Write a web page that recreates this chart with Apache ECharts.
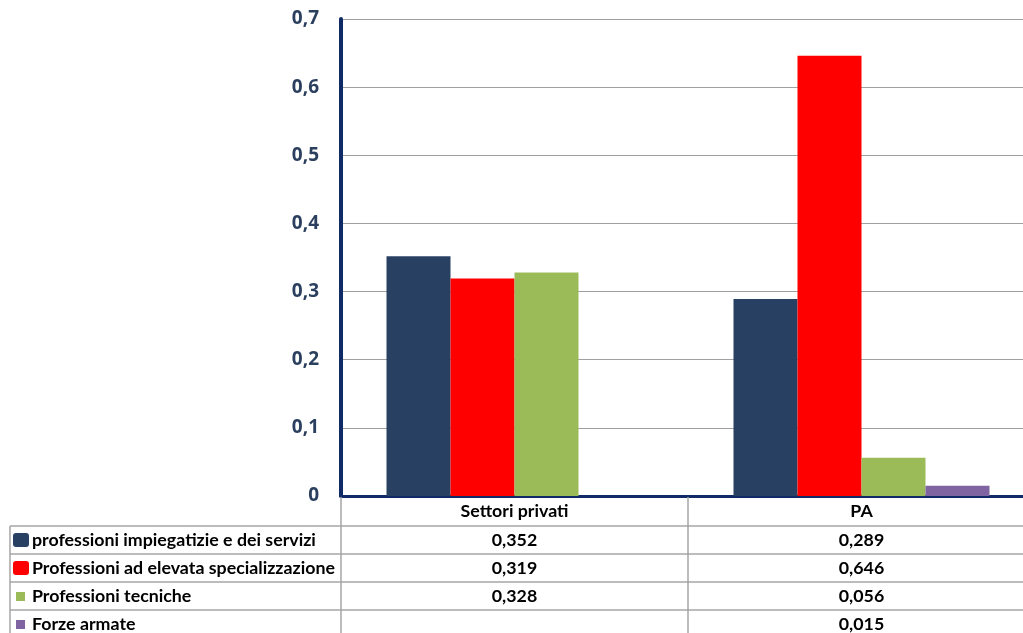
<!DOCTYPE html>
<html><head><meta charset="utf-8">
<script src="https://cdn.jsdelivr.net/npm/echarts@6/dist/echarts.min.js"></script>
<style>html,body{margin:0;padding:0;background:#fff;overflow:hidden;width:1023px;height:633px}#c{width:1035px;height:633px}</style>
</head><body><div id="c"></div>
<script>
const categories = ['Settori privati', 'PA'];
const seriesNames = ['professioni impiegatizie e dei servizi', 'Professioni ad elevata specializzazione', 'Professioni tecniche', 'Forze armate'];
const impiegatizie = [0.352, 0.289];
const elevataSpec = [0.319, 0.646];
const tecniche = [0.328, 0.056];
const forzeArmate = [null, 0.015];
const yTicks = [0, 0.1, 0.2, 0.3, 0.4, 0.5, 0.6, 0.7];

const colors = ['#284163', '#ff0000', '#9bbb59', '#8064a2'];
const seriesData = [impiegatizie, elevataSpec, tecniche, forzeArmate];
const fmt = v => (v == null ? '' : v.toFixed(3).replace('.', ','));

const chart = echarts.init(document.getElementById('c'), null, {renderer: 'canvas'});

const G = {left: 341, right: 0, top: 19, bottom: 137};
const tableTop = 526, rowH = 28, colLeft = 10, colSplit = 688, W = 1035;

const graphics = [];
const line = (x1, y1, x2, y2) => graphics.push({type: 'line', shape: {x1, y1, x2, y2}, style: {stroke: '#a6a6a6', lineWidth: 1.5}, z: 10});
line(341, 497, 341, 633);
line(colSplit, 497, colSplit, 633);
line(colLeft, tableTop, colLeft, 633);
for (let i = 0; i < seriesNames.length; i++) line(colLeft, tableTop + i * rowH, W, tableTop + i * rowH);
const font = 'bold 17.8px Lato, "Open Sans", sans-serif';
const colCenters = [514.5, 861.5];
categories.forEach((c, j) => graphics.push({type: 'text', x: colCenters[j], y: 511, style: {text: c, font, fill: '#000', align: 'center', verticalAlign: 'middle'}, z: 11}));
seriesNames.forEach((n, i) => {
  const cy = tableTop + i * rowH + rowH / 2;
  if (i < 2) graphics.push({type: 'rect', shape: {x: 13, y: cy - 7, width: 16, height: 14, r: 3}, style: {fill: colors[i]}, z: 11});
  else graphics.push({type: 'rect', shape: {x: 16, y: cy - 4, width: 9, height: 9}, style: {fill: colors[i]}, z: 11});
  graphics.push({type: 'text', x: 32, y: cy, style: {text: n, font, fill: '#000', align: 'left', verticalAlign: 'middle'}, z: 11});
  seriesData[i].forEach((v, j) => graphics.push({type: 'text', x: colCenters[j], y: cy, style: {text: fmt(v), font, fill: '#000', align: 'center', verticalAlign: 'middle'}, z: 11}));
});

chart.setOption({
  animation: false,
  backgroundColor: '#fff',
  grid: G,
  xAxis: {
    type: 'category', data: categories,
    axisLine: {show: true, lineStyle: {color: '#0f2a66', width: 3}},
    axisTick: {show: false}, axisLabel: {show: false}, splitLine: {show: false}
  },
  yAxis: {
    type: 'value', min: 0, max: 0.7, interval: 0.1,
    axisLine: {show: true, lineStyle: {color: '#0f2a66', width: 4}},
    axisTick: {show: false},
    axisLabel: {margin: 22, color: '#2b3f5e', fontFamily: '"Open Sans", sans-serif', fontWeight: 'bold', fontSize: 19,
      formatter: v => { const t = yTicks.find(x => Math.abs(x - v) < 1e-9); return t === 0 ? '0' : String(+t.toFixed(1)).replace('.', ','); }},
    splitLine: {show: true, lineStyle: {color: '#a0a0a0', width: 1}}
  },
  series: seriesNames.map((n, i) => ({
    name: n, type: 'bar', data: seriesData[i], barWidth: 64, barGap: '0%',
    itemStyle: {color: colors[i]}
  })),
  graphic: graphics
});
</script></body></html>
